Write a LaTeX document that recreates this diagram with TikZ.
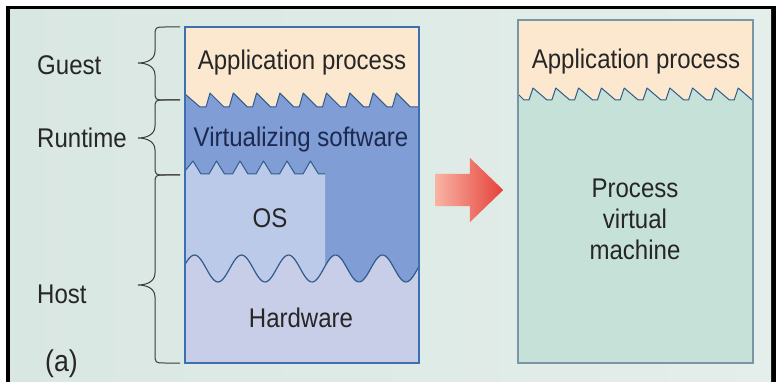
\documentclass[tikz,border=0pt]{standalone}
\usepackage{fontspec}
\setmainfont{Liberation Sans}[FakeStretch=0.89]
\usepackage{tikz}
\usetikzlibrary{shapes.arrows, positioning}

\definecolor{bgleft}{HTML}{D9E7E2}
\definecolor{bgright}{HTML}{E4EEEB}
\definecolor{appfill}{HTML}{FCE8CF}
\definecolor{virtfill}{HTML}{809DD5}
\definecolor{osfill}{HTML}{BCCAEA}
\definecolor{hwfill}{HTML}{C8CDE8}
\definecolor{procfill}{HTML}{C6E1D8}
\definecolor{sawblue}{HTML}{2F5C8A}
\definecolor{stackblue}{HTML}{3D6FB2}
\definecolor{procgrey}{HTML}{7896A3}
\definecolor{bracegrey}{HTML}{3A3A3A}
\definecolor{textgrey}{HTML}{262626}
\definecolor{virttext}{HTML}{1C2A50}
\definecolor{arrowlight}{HTML}{F8B4A4}
\definecolor{arrowred}{HTML}{E5413A}

% Saegezahn- und Klammerpfade
\newcommand{\sawvirt}{(185,94) -- (200,107) foreach \k in {0,...,8} {-- ({206+23.3*\k},107) -- ({210+23.3*\k},93) -- ({224+23.3*\k},107)} -- (419,107)}
\newcommand{\sawos}{(185,171) -- (193,161) -- (201,174) foreach \k in {1,...,5} {-- ({185.5+23.5*\k},174) -- ({193+23.5*\k},161) -- ({201+23.5*\k},174)} -- (325,174)}
\newcommand{\sawproc}{(518,94) -- (524,100) foreach \k in {0,...,9} {-- ({529+22.8*\k},100) -- ({533+22.8*\k},88) -- ({547+22.8*\k},100)} -- (753,100)}
\newcommand{\curlybrace}[3]{%
  \draw[curly] (180,#1) -- (165,#1) .. controls (155,#1) .. (155,#1+10) -- (155,#2-12)
    .. controls (155,#2-3) and (146,#2) .. (138,#2)
    .. controls (146,#2) and (155,#2+3) .. (155,#2+12) -- (155,#3-10)
    .. controls (155,#3) .. (165,#3) -- (180,#3);}

\begin{document}
\begin{tikzpicture}[x=1pt, y=-1pt,
    declare function={wave(\x)=268.5+13.5*cos((\x-218)/47*360);},
    layer/.style={font=\fontsize{27}{31}\selectfont, text=textgrey, inner sep=0pt, anchor=base},
    sidelabel/.style={layer, anchor=base west},
    saw/.style={draw=sawblue, line width=1pt, line join=round},
    wavy/.style={draw=sawblue, line width=1.2pt},
    curly/.style={draw=bracegrey, line width=1pt},
    stackedge/.style={draw=stackblue, line width=1.5pt},
    procedge/.style={draw=procgrey, line width=1.3pt}
  ]

  % Hintergrund und Rahmen
  \fill[white] (0,0) rectangle (776,382);
  \fill[black] (6,6) rectangle (776,382);
  \fill[left color=bgleft, right color=bgright] (10,10) rectangle (771,382);
  \useasboundingbox (0,0) rectangle (776,382);

  % linker Stapel
  \fill[hwfill] (185,27) rectangle (419,363);
  \fill[appfill] (185,27) rectangle (419,110);
  \fill[virtfill] \sawvirt -- plot[domain=419:185, samples=120] (\x,{wave(\x)}) -- cycle;
  \fill[osfill] \sawos -- plot[domain=325:185, samples=80] (\x,{wave(\x)}) -- cycle;
  \draw[saw] \sawvirt;
  \draw[saw] \sawos;
  \draw[wavy] plot[domain=185:419, samples=120] (\x,{wave(\x)});
  \draw[stackedge] (185,27) rectangle (419,363);

  \node[layer] (apptext) at (302,70) {Application process};
  \node[layer, text=virttext] (virtsw) at (301,147) {Virtualizing software};
  \node[layer] (ostext) at (270,227) {OS};
  \node[layer] (hwtext) at (301,327) {Hardware};

  % Klammern links
  \curlybrace{27}{63}{100}
  \curlybrace{100}{138}{175}
  \curlybrace{175}{285}{363}
  \node[sidelabel] (guest) at (37,75) {Guest};
  \node[sidelabel] (runtime) at (37,148) {Runtime};
  \node[sidelabel] (host) at (37,303) {Host};
  \node[sidelabel, font=\fontsize{30}{31}\selectfont] (figlabel) at (45,371) {(a)};

  % Pfeil
  \node[single arrow, minimum height=68pt, inner xsep=0pt, inner ysep=16pt,
        single arrow head extend=16pt, single arrow tip angle=88,
        left color=arrowlight, right color=arrowred, anchor=tail] (shift) at (435,190) {};

  % rechter Kasten
  \fill[procfill] (518,20) rectangle (753,363);
  \fill[appfill] (518,20) rectangle (753,103);
  \fill[procfill] \sawproc -- (753,363) -- (518,363) -- cycle;
  \draw[saw] \sawproc;
  \draw[procedge] (518,20) rectangle (753,363);

  \node[layer] (procapp) at (636,69) {Application process};
  \node[layer, align=center] (pvm) at (635,259) {Process\\virtual\\machine};

\end{tikzpicture}
\end{document}
